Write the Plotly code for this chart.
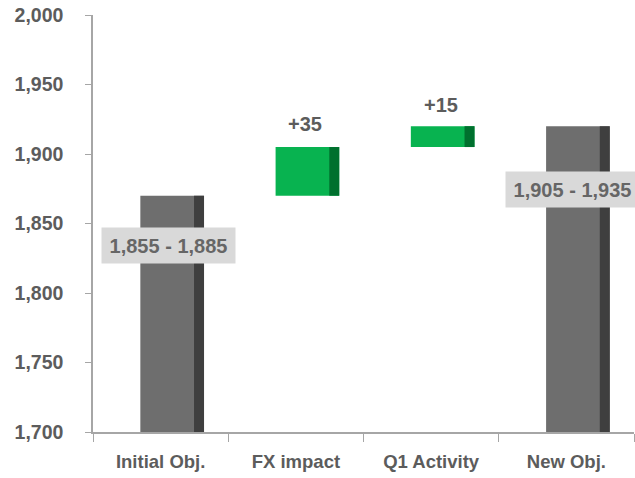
import plotly.graph_objects as go

# Bridge from the initial objective to the new objective
categories = ["Initial Obj.", "FX impact", "Q1 Activity", "New Obj."]
values = [1870, 35, 15, 1920]
kinds = ["total", "delta", "delta", "total"]
range_labels = ["1,855 - 1,885", None, None, "1,905 - 1,935"]

# running bases for the floating bars
bases, tops = [], []
level = 0
for v, k in zip(values, kinds):
    if k == "total":
        bases.append(0)
        level = v
    else:
        bases.append(level)
        level += v
    tops.append(level)
heights = [t - b for t, b in zip(tops, bases)]

face = ["#6e6e6e" if k == "total" else "#08b350" for k in kinds]
side = ["#3f3f3f" if k == "total" else "#00702e" for k in kinds]

FONT = "Liberation Sans, Arial, sans-serif"
GREY = "#5c5c5c"

fig = go.Figure()
fig.add_trace(go.Bar(x=categories, y=heights, base=bases, marker_color=face,
                     marker_line_width=0, width=0.47, offset=-0.15,
                     hoverinfo="skip"))
fig.add_trace(go.Bar(x=categories, y=heights, base=bases, marker_color=side,
                     marker_line_width=0, width=0.074, offset=0.247,
                     hoverinfo="skip"))

# change labels above the floating bars
delta_shift = {1: (9, 23), 2: (10, 21)}
for i, (c, v, k, t) in enumerate(zip(categories, values, kinds, tops)):
    if k == "delta":
        dx, dy = delta_shift[i]
        fig.add_annotation(x=c, y=t, text=f"<b>+{v}</b>", showarrow=False,
                           xshift=dx, yshift=dy, font=dict(family=FONT, size=20, color=GREY))

# range boxes on the total bars
box_shift = {0: (8, -50), 3: (6, -63)}
for i, (c, t, lab) in enumerate(zip(categories, tops, range_labels)):
    if lab:
        dx, dy = box_shift[i]
        fig.add_annotation(x=c, y=t, text=f"<b>{lab}</b>", showarrow=False,
                           xshift=dx, yshift=dy, bgcolor="#d9d9d9",
                           borderpad=5, width=123, height=25,
                           font=dict(family=FONT, size=20, color="#666666"))

fig.update_layout(
    width=635, height=478,
    margin=dict(l=93, r=1, t=15, b=46),
    paper_bgcolor="white", plot_bgcolor="white",
    barmode="overlay", showlegend=False,
    font=dict(family=FONT, color=GREY),
)
fig.update_xaxes(type="category", range=[-0.5, 3.5], showline=True,
                 linecolor="#a6a6a6", linewidth=1.5, ticks="outside",
                 tickson="boundaries", ticklen=8, tickcolor="#a6a6a6",
                 tickfont=dict(family=FONT, size=18.5, color=GREY),
                 showgrid=False, ticklabelstandoff=12,
                 tickvals=categories, ticktext=[f"<b>{c}</b>" for c in categories])
fig.update_yaxes(range=[1700, 2000], dtick=50, tickformat=",", showline=True,
                 linecolor="#a6a6a6", linewidth=1.5, ticks="outside",
                 ticklen=6, tickcolor="#a6a6a6", showgrid=False, zeroline=False,
                 tickfont=dict(family=FONT, size=19.5, color=GREY),
                 tickprefix="<b>", ticksuffix="</b>", ticklabelstandoff=18)

fig.write_html("out.html")
